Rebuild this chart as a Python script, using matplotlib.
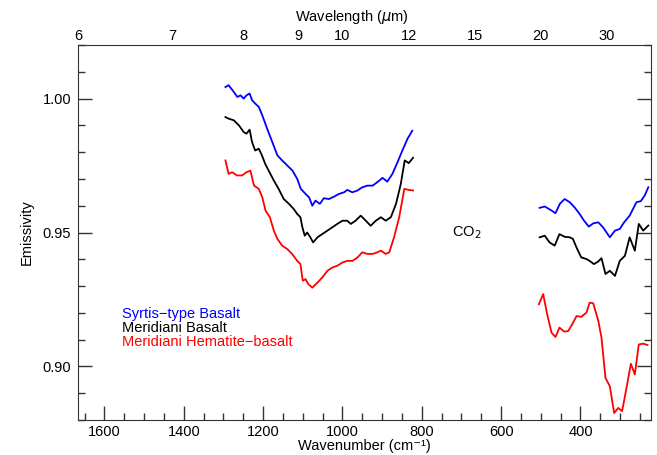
import numpy as np
from matplotlib import pyplot as plt

plt.rcParams['font.family'] = ['Liberation Sans', 'DejaVu Sans']
plt.rcParams['font.size'] = 10.5
plt.rcParams['mathtext.fontset'] = 'dejavusans'

# --- data (wavenumber cm^-1, emissivity) ---
# 8-12 um window
wn_syrtis_a = [1295, 1287, 1274, 1265, 1257, 1249, 1242, 1234, 1228, 1219, 1211, 1202, 1190,
               1177, 1164, 1152, 1139, 1126, 1114, 1105, 1093, 1084, 1076, 1068, 1057, 1047,
               1034, 1021, 1009, 996, 988, 975, 962, 950, 937, 924, 912, 899, 887, 874, 861,
               849, 836, 824]
em_syrtis_a = [1.0043, 1.0050, 1.0025, 1.0006, 1.0012, 1.0000, 1.0012, 1.0019, 0.9994, 0.9980,
               0.9969, 0.9937, 0.9888, 0.9838, 0.9788, 0.9769, 0.9750, 0.9731, 0.9700, 0.9663,
               0.9644, 0.9631, 0.9600, 0.9619, 0.9607, 0.9628, 0.9625, 0.9634, 0.9644, 0.9650,
               0.9659, 0.9650, 0.9657, 0.9669, 0.9675, 0.9675, 0.9688, 0.9704, 0.9690, 0.9719,
               0.9763, 0.9806, 0.9850, 0.9880]

wn_merid_a = [1295, 1287, 1274, 1261, 1249, 1242, 1234, 1228, 1220, 1211, 1203, 1195, 1186,
              1173, 1161, 1148, 1135, 1123, 1114, 1106, 1101, 1095, 1089, 1081, 1074, 1063,
              1051, 1038, 1026, 1013, 1000, 988, 979, 967, 954, 941, 929, 916, 903, 891, 878,
              865, 853, 843, 833, 822]
em_merid_a = [0.9931, 0.9925, 0.9919, 0.9900, 0.9875, 0.9869, 0.9884, 0.9838, 0.9806, 0.9813,
              0.9788, 0.9757, 0.9731, 0.9694, 0.9663, 0.9625, 0.9607, 0.9588, 0.9569, 0.9557,
              0.9519, 0.9488, 0.9500, 0.9482, 0.9463, 0.9482, 0.9494, 0.9507, 0.9519, 0.9532,
              0.9544, 0.9544, 0.9532, 0.9544, 0.9563, 0.9544, 0.9525, 0.9544, 0.9557, 0.9544,
              0.9557, 0.9607, 0.9681, 0.9769, 0.9759, 0.9779]

wn_hem_a = [1295, 1287, 1278, 1266, 1253, 1242, 1232, 1223, 1211, 1202, 1194, 1183, 1173,
            1164, 1152, 1139, 1127, 1114, 1106, 1100, 1093, 1086, 1076, 1063, 1051, 1038,
            1026, 1013, 1000, 988, 975, 962, 950, 937, 924, 912, 903, 891, 882, 870, 857,
            844, 833, 822]
em_hem_a = [0.9769, 0.9719, 0.9725, 0.9713, 0.9713, 0.9725, 0.9731, 0.9675, 0.9663, 0.9631,
            0.9582, 0.9557, 0.9507, 0.9476, 0.9451, 0.9438, 0.9420, 0.9394, 0.9382, 0.9320,
            0.9326, 0.9307, 0.9294, 0.9313, 0.9332, 0.9357, 0.9369, 0.9376, 0.9388, 0.9394,
            0.9394, 0.9407, 0.9426, 0.9420, 0.9420, 0.9426, 0.9432, 0.9420, 0.9426, 0.9482,
            0.9557, 0.9663, 0.9659, 0.9657]

# 20-45 um window
wn_syrtis_b = [503, 490, 475, 463, 452, 440, 427, 415, 402, 391, 379, 368, 355, 343, 326, 313,
               301, 290, 276, 259, 248, 238, 229]
em_syrtis_b = [0.9592, 0.9597, 0.9584, 0.9572, 0.9607, 0.9625, 0.9613, 0.9594, 0.9569, 0.9544,
               0.9522, 0.9534, 0.9538, 0.9519, 0.9482, 0.9507, 0.9513, 0.9538, 0.9563, 0.9613,
               0.9617, 0.9638, 0.9669]

wn_merid_b = [503, 490, 478, 465, 453, 440, 427, 419, 410, 398, 385, 377, 366, 355, 347, 337,
              326, 313, 301, 288, 276, 263, 253, 242, 229]
em_merid_b = [0.9482, 0.9488, 0.9463, 0.9451, 0.9494, 0.9484, 0.9482, 0.9476, 0.9444, 0.9407,
              0.9401, 0.9394, 0.9382, 0.9392, 0.9404, 0.9345, 0.9357, 0.9338, 0.9394, 0.9413,
              0.9482, 0.9432, 0.9532, 0.9507, 0.9526]

wn_hem_b = [505, 494, 484, 473, 463, 453, 441, 431, 421, 410, 398, 385, 377, 368, 355, 347,
            337, 326, 315, 305, 295, 284, 273, 263, 253, 242, 231]
em_hem_b = [0.9232, 0.9270, 0.9195, 0.9126, 0.9110, 0.9145, 0.9130, 0.9132, 0.9157, 0.9188,
            0.9185, 0.9201, 0.9238, 0.9236, 0.9170, 0.9107, 0.8957, 0.8926, 0.8826, 0.8845,
            0.8833, 0.8920, 0.9010, 0.8970, 0.9082, 0.9085, 0.9080]

labels = ['Syrtis\u2212type Basalt', 'Meridiani Basalt', 'Meridiani Hematite\u2212basalt']
colors = ['blue', 'black', 'red']
wavelengths = [6, 7, 8, 9, 10, 12, 15, 20, 30]

fig = plt.figure(figsize=(6.57, 4.55), dpi=100)
ax = fig.add_axes([78/657, 1-420/455, (651-78)/657, (420-45)/455])

ax.plot(wn_syrtis_a, em_syrtis_a, color=colors[0], lw=1.3)
ax.plot(wn_merid_a, em_merid_a, color=colors[1], lw=1.3)
ax.plot(wn_hem_a, em_hem_a, color=colors[2], lw=1.3)
ax.plot(wn_syrtis_b, em_syrtis_b, color=colors[0], lw=1.3)
ax.plot(wn_merid_b, em_merid_b, color=colors[1], lw=1.3)
ax.plot(wn_hem_b, em_hem_b, color=colors[2], lw=1.3)

ax.set_xlim(10000/6., 10000/45.)
ax.set_ylim(0.88, 1.02)
ax.set_xticks(np.arange(400, 1601, 200))
ax.set_xticks(np.arange(250, 1651, 50), minor=True)
ax.set_yticks([0.90, 0.95, 1.00])
ax.set_yticklabels(['0.90', '0.95', '1.00'])
ax.set_yticks(np.arange(0.88, 1.0201, 0.01), minor=True)
ax.tick_params(which='both', direction='in', top=True, right=True, color='#333333')
ax.tick_params(which='major', length=10, width=1, pad=3.5)
ax.tick_params(which='minor', length=5, width=1)
ax.tick_params(axis='y', pad=5)
for s in ax.spines.values():
    s.set_color('#333333')
ax.set_xlabel('Wavenumber (cm\u207b\u00b9)', labelpad=0)
ax.set_ylabel('Emissivity', labelpad=6)

ax.text(686, 0.95, 'CO$_2$', ha='center', va='center')

ytxt = [0.9196, 0.9145, 0.9092]
for lab, c, yy in zip(labels, colors, ytxt):
    ax.text(1556, yy, lab, color=c, ha='left', va='center')

ax2 = ax.twiny()
ax2.set_xlim(ax.get_xlim())
ax2.set_xticks([10000./w for w in wavelengths])
ax2.set_xticklabels([str(w) for w in wavelengths])
ax2.tick_params(length=0, pad=1.5)
for s in ax2.spines.values():
    s.set_visible(False)
ax2.set_xlabel('Wavelength ($\\mu$m)', labelpad=1)
ax2.xaxis.set_label_coords(0.478, 1.065)

plt.savefig('out.png', format='png', dpi=100)
